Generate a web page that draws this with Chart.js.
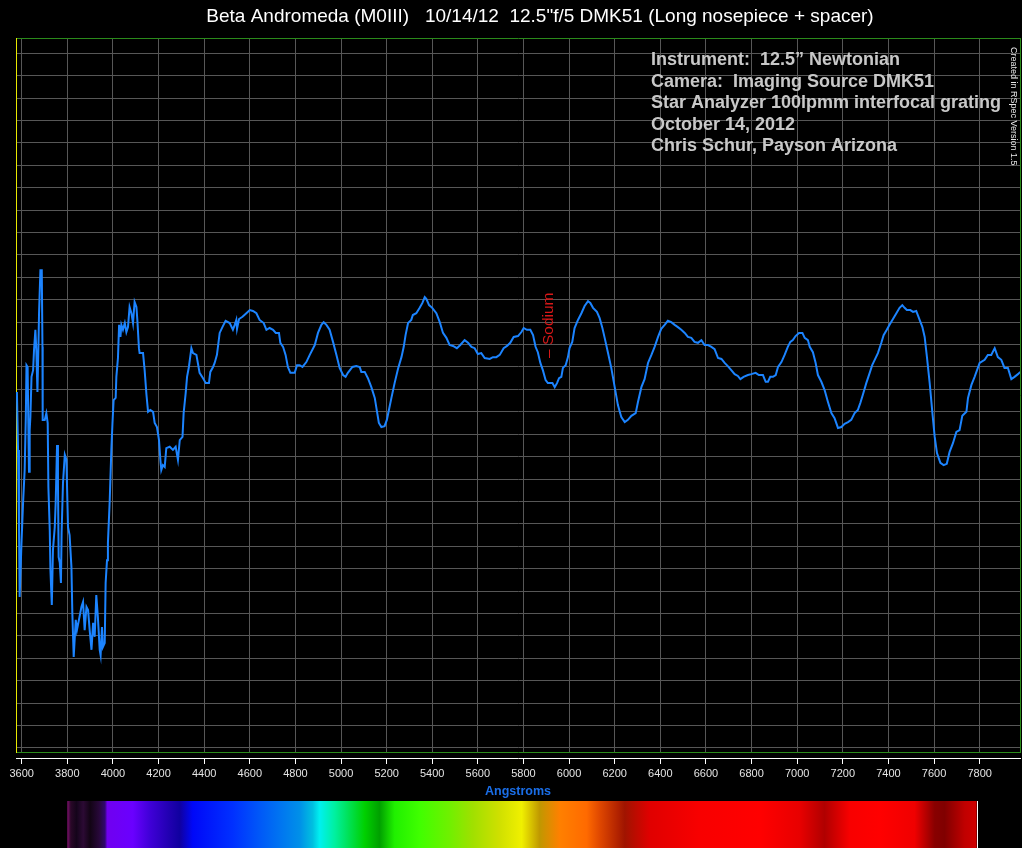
<!DOCTYPE html>
<html>
<head>
<meta charset="utf-8">
<title>Beta Andromeda (M0III) spectrum</title>
<script src="https://cdn.jsdelivr.net/npm/chart.js"></script>
<style>
  html, body { margin: 0; padding: 0; background: #000; }
  #chart { display: block; }
</style>
</head>
<body>
<canvas id="chart" width="1022" height="848"></canvas>
<script>
// wavelength (Angstroms) and relative intensity
var wavelengths = [
  3579,3584,3588,3591,3599,3606,3613,3618,3621,3626,
  3629,3632,3635,3638,3643,3650,3654,3660,3664,3669,
  3673,3676,3682,3688,3691,3692,3701,3708,3714,3717,
  3723,3726,3732,3737,3745,3749,3755,3759,3762,3767,
  3772,3775,3781,3789,3796,3803,3810,3818,3822,3828,
  3837,3842,3851,3862,3869,3876,3884,3891,3898,3906,
  3913,3920,3927,3934,3942,3946,3952,3956,3964,3968,
  3974,3978,3986,3993,3998,4003,4012,4015,4022,4027,
  4033,4037,4044,4052,4059,4066,4073,4081,4088,4095,
  4103,4107,4114,4117,4132,4139,4147,4154,4164,4176,
  4183,4193,4202,4208,4212,4219,4227,4234,4249,4263,
  4275,4285,4293,4305,4310,4319,4325,4333,4344,4351,
  4366,4380,4395,4407,4421,4427,4439,4446,4456,4468,
  4480,4494,4512,4526,4534,4541,4544,4553,4568,4585,
  4600,4614,4629,4643,4661,4673,4687,4702,4714,4728,
  4734,4746,4757,4767,4778,4797,4807,4819,4831,4848,
  4863,4885,4899,4914,4924,4936,4950,4965,4980,4994,
  5009,5020,5030,5050,5067,5082,5089,5104,5118,5133,
  5148,5158,5166,5177,5191,5201,5210,5221,5235,5250,
  5265,5275,5283,5294,5308,5315,5330,5345,5357,5367,
  5374,5386,5400,5418,5433,5447,5462,5476,5491,5508,
  5523,5542,5557,5572,5586,5600,5615,5630,5652,5666,
  5681,5696,5713,5728,5742,5757,5776,5791,5801,5815,
  5830,5842,5853,5863,5874,5885,5897,5907,5927,5937,
  5947,5956,5966,5973,5985,5995,6002,6014,6024,6039,
  6054,6068,6083,6093,6105,6122,6134,6146,6156,6170,
  6185,6200,6214,6229,6244,6258,6273,6292,6302,6317,
  6331,6346,6361,6375,6390,6404,6419,6433,6448,6463,
  6477,6492,6507,6521,6536,6550,6565,6580,6594,6609,
  6624,6638,6653,6668,6682,6696,6711,6726,6740,6751,
  6765,6784,6799,6818,6832,6850,6862,6872,6882,6894,
  6906,6916,6931,6945,6959,6970,6981,6993,7008,7023,
  7033,7047,7055,7069,7081,7091,7106,7120,7135,7150,
  7164,7179,7194,7208,7223,7237,7252,7266,7277,7288,
  7303,7318,7329,7340,7354,7369,7379,7393,7405,7420,
  7435,7449,7461,7471,7481,7496,7508,7522,7534,7549,
  7559,7569,7581,7593,7603,7613,7628,7642,7656,7668,
  7683,7698,7712,7724,7742,7749,7764,7778,7800,7822,
  7836,7851,7866,7880,7895,7909,7924,7939,7953,7968,
  7978
];
var intensity = [
  0.794,0.665,0.502,0.337,0.457,0.547,0.620,0.738,0.854,0.850,
  0.725,0.616,0.709,0.738,0.828,0.843,0.888,0.933,0.888,0.794,
  0.888,0.970,1.066,1.066,0.895,0.732,0.732,0.747,0.725,0.582,
  0.486,0.397,0.319,0.442,0.493,0.547,0.676,0.591,0.426,0.413,
  0.368,0.480,0.591,0.654,0.643,0.493,0.475,0.404,0.301,0.203,
  0.286,0.263,0.286,0.315,0.326,0.263,0.315,0.308,0.263,0.219,
  0.279,0.248,0.341,0.292,0.219,0.207,0.270,0.225,0.234,0.368,
  0.419,0.457,0.553,0.665,0.725,0.776,0.781,0.828,0.870,0.944,
  0.917,0.944,0.933,0.948,0.928,0.939,0.984,0.970,0.948,0.995,
  0.984,0.955,0.892,0.881,0.881,0.843,0.788,0.750,0.754,0.750,
  0.725,0.716,0.687,0.643,0.620,0.631,0.627,0.669,0.672,0.665,
  0.672,0.643,0.687,0.694,0.747,0.792,0.828,0.850,0.892,0.881,
  0.877,0.837,0.825,0.814,0.814,0.839,0.850,0.859,0.877,0.926,
  0.939,0.953,0.948,0.933,0.944,0.955,0.935,0.957,0.962,0.970,
  0.977,0.975,0.970,0.955,0.948,0.933,0.937,0.933,0.926,0.926,
  0.904,0.895,0.877,0.850,0.837,0.837,0.854,0.854,0.850,0.861,
  0.877,0.899,0.926,0.944,0.950,0.944,0.933,0.906,0.877,0.848,
  0.832,0.828,0.837,0.850,0.852,0.850,0.839,0.839,0.825,0.805,
  0.781,0.750,0.725,0.716,0.718,0.732,0.754,0.781,0.814,0.846,
  0.872,0.895,0.921,0.948,0.955,0.966,0.970,0.982,0.993,1.006,
  1.002,0.988,0.982,0.970,0.950,0.926,0.915,0.899,0.897,0.892,
  0.899,0.910,0.904,0.895,0.892,0.879,0.881,0.870,0.868,0.872,
  0.872,0.877,0.892,0.897,0.904,0.917,0.919,0.928,0.937,0.933,
  0.933,0.921,0.895,0.883,0.859,0.843,0.821,0.814,0.814,0.805,
  0.814,0.825,0.828,0.848,0.854,0.872,0.892,0.906,0.937,0.955,
  0.970,0.986,0.997,0.993,0.982,0.973,0.959,0.937,0.915,0.883,
  0.848,0.805,0.765,0.738,0.727,0.732,0.741,0.747,0.772,0.805,
  0.823,0.859,0.877,0.895,0.917,0.935,0.944,0.953,0.950,0.944,
  0.939,0.933,0.926,0.917,0.915,0.906,0.904,0.910,0.899,0.899,
  0.895,0.890,0.870,0.868,0.859,0.852,0.843,0.834,0.830,0.823,
  0.828,0.832,0.834,0.837,0.832,0.832,0.817,0.817,0.828,0.828,
  0.832,0.850,0.861,0.877,0.895,0.906,0.910,0.919,0.926,0.926,
  0.915,0.910,0.895,0.883,0.859,0.832,0.817,0.799,0.772,0.747,
  0.736,0.714,0.716,0.723,0.727,0.732,0.747,0.754,0.770,0.788,
  0.814,0.837,0.854,0.866,0.881,0.904,0.921,0.933,0.944,0.957,
  0.970,0.982,0.988,0.982,0.977,0.977,0.973,0.975,0.959,0.939,
  0.917,0.872,0.814,0.747,0.694,0.658,0.636,0.631,0.634,0.660,
  0.680,0.705,0.709,0.741,0.750,0.781,0.810,0.828,0.859,0.866,
  0.877,0.877,0.892,0.872,0.866,0.848,0.848,0.823,0.828,0.834,
  0.839
];
var xTicks = [3600,3800,4000,4200,4400,4600,4800,5000,5200,5400,5600,
              5800,6000,6200,6400,6600,6800,7000,7200,7400,7600,7800];

var titleText = 'Beta Andromeda (M0III)   10/14/12  12.5"f/5 DMK51 (Long nosepiece + spacer)';
var infoLines = [
  'Instrument:  12.5\u201d Newtonian',
  'Camera:  Imaging Source DMK51',
  'Star Analyzer 100lpmm interfocal grating',
  'October 14, 2012',
  'Chris Schur, Payson Arizona'
];
var sodiumLine = 5893;

// colour strip under the axis (wavelength, colour)
var stripStops = [
  [3800,'#801070'],[3815,'#2a0828'],[3840,'#14041a'],[3870,'#2c0a34'],[3900,'#120414'],
  [3940,'#28083a'],[3965,'#300870'],[3975,'#7000f0'],[4087,'#6a00ff'],[4161,'#4000d8'],
  [4249,'#2000b0'],[4293,'#1000a0'],[4350,'#0008f8'],[4525,'#0030ff'],[4643,'#0058f8'],
  [4744,'#0078f0'],[4819,'#0090e8'],[4876,'#00c0e0'],[4906,'#00f0f0'],[4972,'#00f0a0'],
  [5038,'#00e050'],[5104,'#00d000'],[5169,'#00a000'],[5235,'#20f000'],[5345,'#40ff00'],
  [5476,'#70f000'],[5577,'#a0e000'],[5696,'#d0e000'],[5792,'#f0f000'],[5871,'#c09800'],
  [5959,'#ff8000'],[6077,'#ff6a00'],[6134,'#e04800'],[6244,'#a01400'],[6353,'#e00000'],
  [6572,'#f80000'],[6835,'#ff0000'],[7011,'#e80000'],[7120,'#b00000'],[7230,'#f80000'],
  [7361,'#ff0000'],[7515,'#f00000'],[7603,'#880000'],[7646,'#800000'],[7734,'#c00000'],
  [7787,'#d00000']
];

var FONT = '"Liberation Sans", Arial, Helvetica, sans-serif';

var overlay = {
  id: 'overlay',
  afterDraw: function(chart) {
    var ctx = chart.ctx;
    var xs = chart.scales.x;
    var x2 = chart.scales.x2;
    ctx.save();

    // title
    ctx.fillStyle = '#ffffff';
    ctx.font = '19px ' + FONT;
    ctx.textAlign = 'center';
    ctx.textBaseline = 'alphabetic';
    ctx.fillText(titleText, 540, 22);

    // observing notes
    ctx.fillStyle = '#c8c8c8';
    ctx.font = 'bold 18px ' + FONT;
    ctx.textAlign = 'left';
    for (var i = 0; i < infoLines.length; i++) {
      ctx.fillText(infoLines[i], 651, 65 + i * 21.5);
    }

    // RSpec credit, vertical
    ctx.save();
    ctx.translate(1013, 47);
    ctx.rotate(Math.PI / 2);
    ctx.font = '9px ' + FONT;
    ctx.fillStyle = '#e8e8e8';
    ctx.textBaseline = 'middle';
    ctx.fillText('Created in RSpec Version 1.5', 0, 0);
    ctx.restore();

    // sodium marker
    ctx.save();
    ctx.translate(xs.getPixelForValue(sodiumLine) + 4, 358);
    ctx.rotate(-Math.PI / 2);
    ctx.font = '15.5px ' + FONT;
    ctx.fillStyle = '#d81818';
    ctx.textBaseline = 'middle';
    ctx.fillText('\u2013 Sodium', 0, 0);
    ctx.restore();

    // spectrum strip
    var a = xs.getPixelForValue(stripStops[0][0]);
    var b = xs.getPixelForValue(stripStops[stripStops.length - 1][0]);
    var g = ctx.createLinearGradient(a, 0, b, 0);
    var span = stripStops[stripStops.length - 1][0] - stripStops[0][0];
    stripStops.forEach(function(s) {
      g.addColorStop((s[0] - stripStops[0][0]) / span, s[1]);
    });
    ctx.fillStyle = g;
    ctx.fillRect(a, x2.bottom + 1, b - a, chart.height - x2.bottom - 1);
    ctx.fillStyle = '#ffffff';
    ctx.fillRect(Math.round(b), x2.bottom + 1, 1, chart.height - x2.bottom - 1);

    ctx.restore();
  }
};

var gridGrey = '#575757';
var green = '#2a8a1a';

window.onload = function() {
  var ctx = document.getElementById('chart').getContext('2d');
  window.theChart = new Chart(ctx, {
    type: 'line',
    data: {
      datasets: [{
        data: wavelengths.map(function(w, i) { return {x: w, y: intensity[i]}; }),
        borderColor: '#1c84ff',
        borderWidth: 2,
        pointRadius: 0,
        tension: 0,
        fill: false
      }]
    },
    options: {
      responsive: false,
      animation: false,
      layout: { padding: { left: 16, right: 2, top: 38, bottom: 48 } },
      plugins: { legend: { display: false }, tooltip: { enabled: false } },
      scales: {
        x: {
          type: 'linear', position: 'bottom', weight: 0,
          min: 3575, max: 7977,
          afterBuildTicks: function(s) { s.ticks = xTicks.map(function(v) { return {value: v}; }); },
          afterFit: function(s) { s.height = 6; },
          ticks: { display: false },
          grid: { color: gridGrey, drawTicks: false },
          border: { color: green, width: 1 }
        },
        x2: {
          type: 'linear', position: 'bottom', weight: 1,
          min: 3575, max: 7977,
          afterBuildTicks: function(s) { s.ticks = xTicks.map(function(v) { return {value: v}; }); },
          afterFit: function(s) { s.height = 42; },
          ticks: {
            color: '#e4e4e4', padding: 3, autoSkip: false, maxRotation: 0,
            font: { family: FONT, size: 11 },
            callback: function(v) { return String(v); }
          },
          grid: { drawOnChartArea: false, drawTicks: true, tickLength: 6, tickColor: '#ffffff', tickWidth: 1 },
          border: { color: '#ffffff', width: 1 },
          title: {
            display: true, text: 'Angstroms', color: '#1a6ee8',
            font: { family: FONT, size: 12.5, weight: 'bold' },
            padding: { top: 0, bottom: 1 }
          }
        },
        xTop: {
          type: 'linear', position: 'top', min: 0, max: 1,
          afterFit: function(s) { s.height = 0; },
          ticks: { display: false },
          grid: { display: false },
          border: { color: green, width: 1 }
        },
        y: {
          type: 'linear', position: 'left',
          min: -0.009, max: 1.584,
          afterFit: function(s) { s.width = 0; },
          ticks: { display: false, stepSize: 0.05, includeBounds: false, maxTicksLimit: 100 },
          grid: { color: gridGrey, drawTicks: false },
          border: { color: '#e8e800', width: 1 }
        },
        yRight: {
          type: 'linear', position: 'right', min: 0, max: 1,
          afterFit: function(s) { s.width = 0; },
          ticks: { display: false },
          grid: { display: false },
          border: { color: green, width: 1 }
        }
      }
    },
    plugins: [overlay]
  });
};
</script>
</body>
</html>
